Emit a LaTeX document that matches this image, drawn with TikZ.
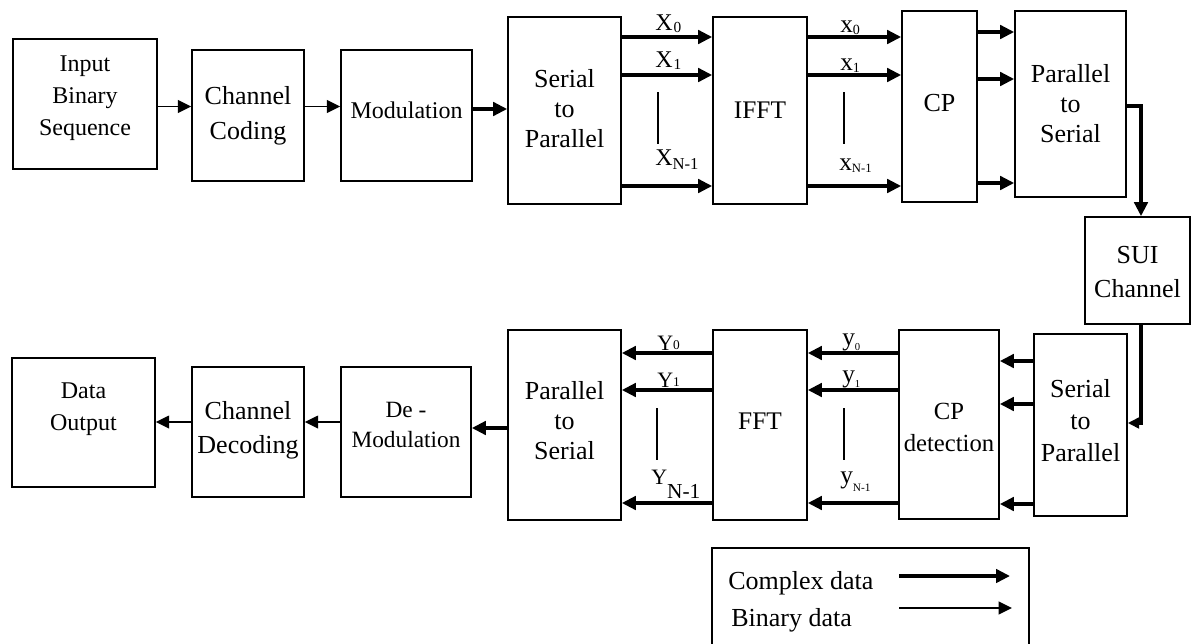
\documentclass[tikz,border=0pt]{standalone}
\usepackage{fontspec}
\setmainfont{Liberation Serif}
\usetikzlibrary{arrows.meta}
\newcommand\setfs[2]{\fontsize{#1}{#2}\selectfont}
\begin{document}
\begin{tikzpicture}[x=0.75pt,y=-0.75pt,
  blk/.style 2 args={draw, line width=1.2pt, minimum width=#1*0.75pt, minimum height=#2*0.75pt, inner sep=0pt},
  txt/.style={align=center, inner sep=0pt},
  thinar/.style={line width=1.3pt, -{Triangle[length=10pt,width=9.5pt]}},
  thickar/.style={line width=2.6pt, -{Triangle[length=10.5pt,width=10pt]}},
  lbl/.style={inner sep=0pt, anchor=base west},
  vbar/.style={line width=1pt}]
\useasboundingbox (0,0) rectangle (1192,643);

% ---------- boxes ----------
\node[blk={144}{130}] (inp) at (85,104) {};
\node[blk={112}{131}] (cc) at (248,115.5) {};
\node[blk={131}{131}] (mod) at (406.5,115.5) {};
\node[blk={113}{187}] (sp1) at (564.5,110.5) {};
\node[blk={94}{187}] (ifft) at (760,110.5) {};
\node[blk={75}{191}] (cp) at (939.5,106.5) {};
\node[blk={111}{186}] (ps1) at (1070.5,104) {};
\node[blk={105}{107}] (sui) at (1137.5,270.5) {};
\node[blk={93}{182}] (sp2) at (1080.5,425) {};
\node[blk={100}{189}] (cpd) at (949,424.5) {};
\node[blk={94}{190}] (fft) at (760,425) {};
\node[blk={113}{190}] (ps2) at (564.5,425) {};
\node[blk={130}{130}] (demod) at (406,432) {};
\node[blk={112}{130}] (cd) at (248,432) {};
\node[blk={143}{129}] (out) at (83.5,422.5) {};

% ---------- box texts ----------
\node[txt, font=\setfs{18}{23.8}] (inpt) at (85,98) {Input\\Binary\\Sequence};
\node[txt, font=\setfs{19.5}{26}] (cct) at (248,116) {Channel\\Coding};
\node[txt, font=\setfs{18}{22}] (modt) at (406.5,110) {Modulation};
\node[txt, font=\setfs{19.5}{22.5}] (sp1t) at (564.5,109) {Serial\\to\\Parallel};
\node[txt, font=\setfs{19}{22}] (ifftt) at (760,110) {IFFT};
\node[txt, font=\setfs{19.5}{22}] (cpt) at (939.5,103) {CP};
\node[txt, font=\setfs{19.5}{22.5}] (ps1t) at (1070.5,104) {Parallel\\to\\Serial};
\node[txt, font=\setfs{19.5}{25.5}] (suit) at (1137.5,272) {SUI\\Channel};
\node[txt, font=\setfs{19.5}{24}] (sp2t) at (1080.5,421) {Serial\\to\\Parallel};
\node[txt, font=\setfs{18.5}{24}] (cpdt) at (949,427) {CP\\detection};
\node[txt, font=\setfs{19}{22}] (fftt) at (760,421) {FFT};
\node[txt, font=\setfs{19.5}{22.5}] (ps2t) at (564.5,421) {Parallel\\to\\Serial};
\node[txt, font=\setfs{17.5}{22}] (demodt) at (406,425) {De -\\Modulation};
\node[txt, font=\setfs{19.5}{25.5}] (cdt) at (248,430) {Channel\\Decoding};
\node[txt, font=\setfs{18}{24}] (outt) at (83.5,409) {Data\\Output};

% ---------- level coordinates ----------
\coordinate (h1) at (0,106.5);
\coordinate (h3) at (0,109);
\coordinate (hx0) at (0,37);
\coordinate (hx1) at (0,75);
\coordinate (hxn) at (0,186);
\coordinate (hc0) at (0,32);
\coordinate (hc1) at (0,79);
\coordinate (hcn) at (0,183);
\coordinate (hs) at (0,106);
\coordinate (sx) at (1141,0);
\coordinate (hk) at (0,423);
\coordinate (hz0) at (0,361);
\coordinate (hz1) at (0,404);
\coordinate (hzn) at (0,504);
\coordinate (hy0) at (0,353);
\coordinate (hy1) at (0,390);
\coordinate (hyn) at (0,503);
\coordinate (hd) at (0,428);
\coordinate (he) at (0,422);

% ---------- top row connectors ----------
\draw[thinar] (inp.east |- h1) -- (cc.west |- h1);
\draw[thinar] (cc.east |- h1) -- (mod.west |- h1);
\draw[thickar] (mod.east |- h3) -- (sp1.west |- h3);
\foreach \h in {hx0,hx1,hxn}{
  \draw[thickar] (sp1.east |- \h) -- (ifft.west |- \h);
  \draw[thickar] (ifft.east |- \h) -- (cp.west |- \h);
}
\foreach \h in {hc0,hc1,hcn}{
  \draw[thickar] (cp.east |- \h) -- (ps1.west |- \h);
}
\draw[thickar] (ps1.east |- hs) -- (sx |- hs) -- (sui.north -| sx);
\draw[line width=2.6pt, -{Triangle[length=8.5pt,width=8pt]}] (sui.south -| sx) -- (sx |- hk) -- (sp2.east |- hk);

% ---------- bottom row connectors ----------
\foreach \h in {hz0,hz1,hzn}{
  \draw[thickar] (sp2.west |- \h) -- (cpd.east |- \h);
}
\foreach \h in {hy0,hy1,hyn}{
  \draw[thickar] (cpd.west |- \h) -- (fft.east |- \h);
  \draw[thickar] (fft.west |- \h) -- (ps2.east |- \h);
}
\draw[thickar] (ps2.west |- hd) -- (demod.east |- hd);
\draw[thinar] (demod.west |- he) -- (cd.east |- he);
\draw[thinar] (cd.west |- he) -- (out.east |- he);

% ---------- signal labels ----------
\node[lbl, font=\setfs{18}{18}] (X0) at (655,30) {X\kern0.8pt\raisebox{-2.2pt}{\setfs{11.5}{11.5}0}};
\node[lbl, font=\setfs{18}{18}] (X1) at (655,67) {X\kern0.8pt\raisebox{-2.2pt}{\setfs{11.5}{11.5}1}};
\node[lbl, font=\setfs{18}{18}] (XN) at (655,165) {X\raisebox{-3.7pt}{\setfs{12.5}{12.5}N-1}};
\node[lbl, font=\setfs{19}{19}] (x0) at (840,32) {x\raisebox{-2.2pt}{\setfs{10.5}{10.5}0}};
\node[lbl, font=\setfs{19}{19}] (x1) at (840,70) {x\raisebox{-2.2pt}{\setfs{10.5}{10.5}1}};
\node[lbl, font=\setfs{19}{19}] (xN) at (839,170) {x\raisebox{-2.2pt}{\setfs{9.5}{9.5}N-1}};
\node[lbl, font=\setfs{16.5}{16.5}] (Y0) at (657,350) {Y\raisebox{0.5pt}{\setfs{10}{10}0}};
\node[lbl, font=\setfs{16.5}{16.5}] (Y1) at (657,387) {Y\raisebox{0.5pt}{\setfs{10}{10}1}};
\node[lbl, font=\setfs{16.5}{16.5}] (YN) at (651,484) {Y\raisebox{-10.5pt}{\setfs{16}{16}N-1}};
\node[lbl, font=\setfs{19}{19}] (y0) at (842,345.5) {y\raisebox{-3.75pt}{\setfs{8}{8}0}};
\node[lbl, font=\setfs{19}{19}] (y1) at (842,382.5) {y\raisebox{-3.75pt}{\setfs{8}{8}1}};
\node[lbl, font=\setfs{19}{19}] (yN) at (840,483.5) {y\raisebox{-6pt}{\setfs{8.5}{8.5}N-1}};

\coordinate (b1a) at (658,92);  \coordinate (b1b) at (658,144);
\coordinate (b2a) at (844,92);  \coordinate (b2b) at (844,144);
\coordinate (b3a) at (657,408); \coordinate (b3b) at (657,460);
\coordinate (b4a) at (844,408); \coordinate (b4b) at (844,460);
\draw[vbar] (b1a) -- (b1b);
\draw[vbar] (b2a) -- (b2b);
\draw[vbar] (b3a) -- (b3b);
\draw[vbar] (b4a) -- (b4b);

% ---------- legend ----------
\draw[line width=1.2pt] (712,650) -- (712,548) -- (1029,548) -- (1029,650);
\node[lbl, font=\setfs{19.5}{19.5}] (lgc) at (728,589) {Complex data};
\node[lbl, font=\setfs{19.5}{19.5}] (lgb) at (731,626) {Binary data};
\coordinate (lc1) at (899,576); \coordinate (lc2) at (1010,576);
\coordinate (lb1) at (899,608); \coordinate (lb2) at (1012,608);
\draw[thickar] (lc1) -- (lc2);
\draw[thinar] (lb1) -- (lb2);
\end{tikzpicture}
\end{document}
